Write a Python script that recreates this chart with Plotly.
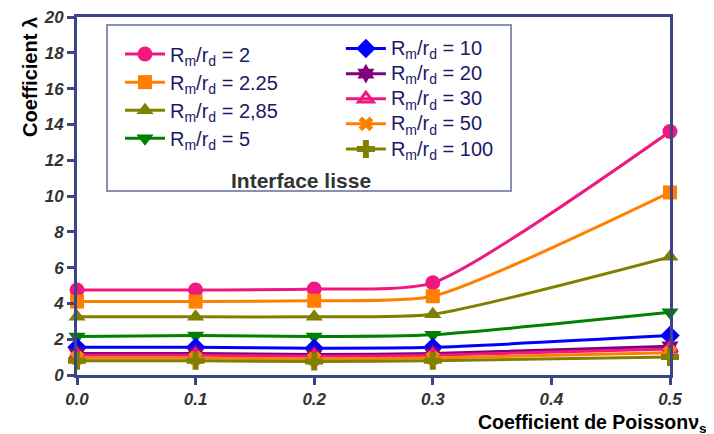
import plotly.graph_objects as go

nu = [0.0, 0.1, 0.2, 0.3, 0.5]
labels = ["R<sub>m</sub>/r<sub>d</sub> = 2", "R<sub>m</sub>/r<sub>d</sub> = 2.25",
          "R<sub>m</sub>/r<sub>d</sub> = 2,85", "R<sub>m</sub>/r<sub>d</sub> = 5",
          "R<sub>m</sub>/r<sub>d</sub> = 10", "R<sub>m</sub>/r<sub>d</sub> = 20",
          "R<sub>m</sub>/r<sub>d</sub> = 30", "R<sub>m</sub>/r<sub>d</sub> = 50",
          "R<sub>m</sub>/r<sub>d</sub> = 100"]
lam_2 = [4.75, 4.75, 4.8, 5.15, 13.6]
lam_2_25 = [4.1, 4.1, 4.15, 4.4, 10.2]
lam_2_85 = [3.25, 3.25, 3.25, 3.4, 6.6]
lam_5 = [2.15, 2.2, 2.15, 2.25, 3.5]
lam_10 = [1.55, 1.55, 1.5, 1.55, 2.2]
lam_20 = [1.2, 1.2, 1.15, 1.2, 1.6]
lam_30 = [1.1, 1.1, 1.05, 1.1, 1.45]
lam_50 = [0.95, 0.95, 0.9, 0.95, 1.25]
lam_100 = [0.8, 0.8, 0.75, 0.8, 1.0]

series = [lam_2, lam_2_25, lam_2_85, lam_5, lam_10, lam_20, lam_30, lam_50, lam_100]
colors = ["#F0177F", "#FF8000", "#808000", "#008000", "#0000FF", "#800080", "#F0177F", "#FF8000", "#808000"]
symbols = ["circle", "square", "triangle-up", "triangle-down", "diamond", "hexagram",
           "triangle-up-open", "x", "cross"]
sizes = [15, 14, 15, 15, 15, 15, 13, 13, 15]

fig = go.Figure()
for i, (ys, lb, c, s, sz) in enumerate(zip(series, labels, colors, symbols, sizes)):
    mk = dict(color=c, symbol=s, size=sz)
    if s.endswith("open"):
        mk["line"] = dict(color=c, width=3)
    else:
        mk["line"] = dict(color=c, width=0)
    fig.add_trace(go.Scatter(
        x=nu, y=ys, name='<span style="font-size:20px">' + lb + '</span>', mode="lines+markers",
        line=dict(color=c, width=3, shape="spline", smoothing=0.6),
        marker=mk, cliponaxis=False,
        legend="legend" if i < 4 else "legend2",
    ))

axis_col = "#3C4585"
tickfont = dict(family="Liberation Sans, Arial", size=17, color="#333333", weight="bold", style="italic")
fig.update_xaxes(range=[0, 0.5], dtick=0.1, tick0=0, tickformat=".1f", showgrid=False, zeroline=False,
                 showline=True, linecolor=axis_col, linewidth=3, mirror=True, automargin=False,
                 ticklabeloverflow="allow",
                 ticks="outside", ticklen=7, tickwidth=3, tickcolor=axis_col, tickfont=tickfont)
fig.update_yaxes(range=[0, 20], dtick=2, tick0=0, showgrid=False, zeroline=False,
                 showline=True, linecolor=axis_col, linewidth=3, mirror=True, automargin=False,
                 ticklabeloverflow="allow",
                 ticks="outside", ticklen=7, tickwidth=3, tickcolor=axis_col, tickfont=tickfont)

fig.update_layout(
    width=714, height=434,
    margin=dict(l=69, r=52, t=9, b=67, autoexpand=False),
    paper_bgcolor="white", plot_bgcolor="white",
    legend=dict(x=0.0725, y=(375-35)/358, xanchor="left", yanchor="top", bgcolor="rgba(0,0,0,0)",
                font=dict(family="Liberation Sans, Arial", size=19.3, color="#1A1A66"), itemwidth=40),
    legend2=dict(x=0.445, y=(375-31)/358, xanchor="left", yanchor="top", bgcolor="rgba(0,0,0,0)",
                 font=dict(family="Liberation Sans, Arial", size=17, color="#1A1A66"), itemwidth=40),
    shapes=[dict(type="rect", xref="paper", yref="paper", x0=(107-77)/593, x1=(511-77)/593,
                 y0=(375-191)/358, y1=(375-25)/358,
                 line=dict(color="#8A8FB8", width=2), fillcolor="rgba(0,0,0,0)", layer="below")],
    annotations=[
        dict(text="Interface lisse", xref="paper", yref="paper", x=(301-77)/593, y=(375-180)/358,
             xanchor="center", yanchor="middle", showarrow=False,
             font=dict(family="Liberation Sans, Arial", size=21, color="#333333", weight="bold")),
        dict(text="Coefficient λ", xref="paper", yref="paper", x=(30-77)/593, y=(375-77)/358,
             xanchor="center", yanchor="middle", textangle=-90, showarrow=False,
             font=dict(family="Liberation Sans, Arial", size=20, color="black", weight="bold")),
        dict(text="Coefficient de Poissonν<sub>s</sub>", xref="paper", yref="paper", x=(476-77)/593,
             y=(375-424)/358, xanchor="left", yanchor="middle", showarrow=False,
             font=dict(family="Liberation Sans, Arial", size=19.5, color="black", weight="bold")),
    ],
    showlegend=True,
)
fig.write_html("out.html")
